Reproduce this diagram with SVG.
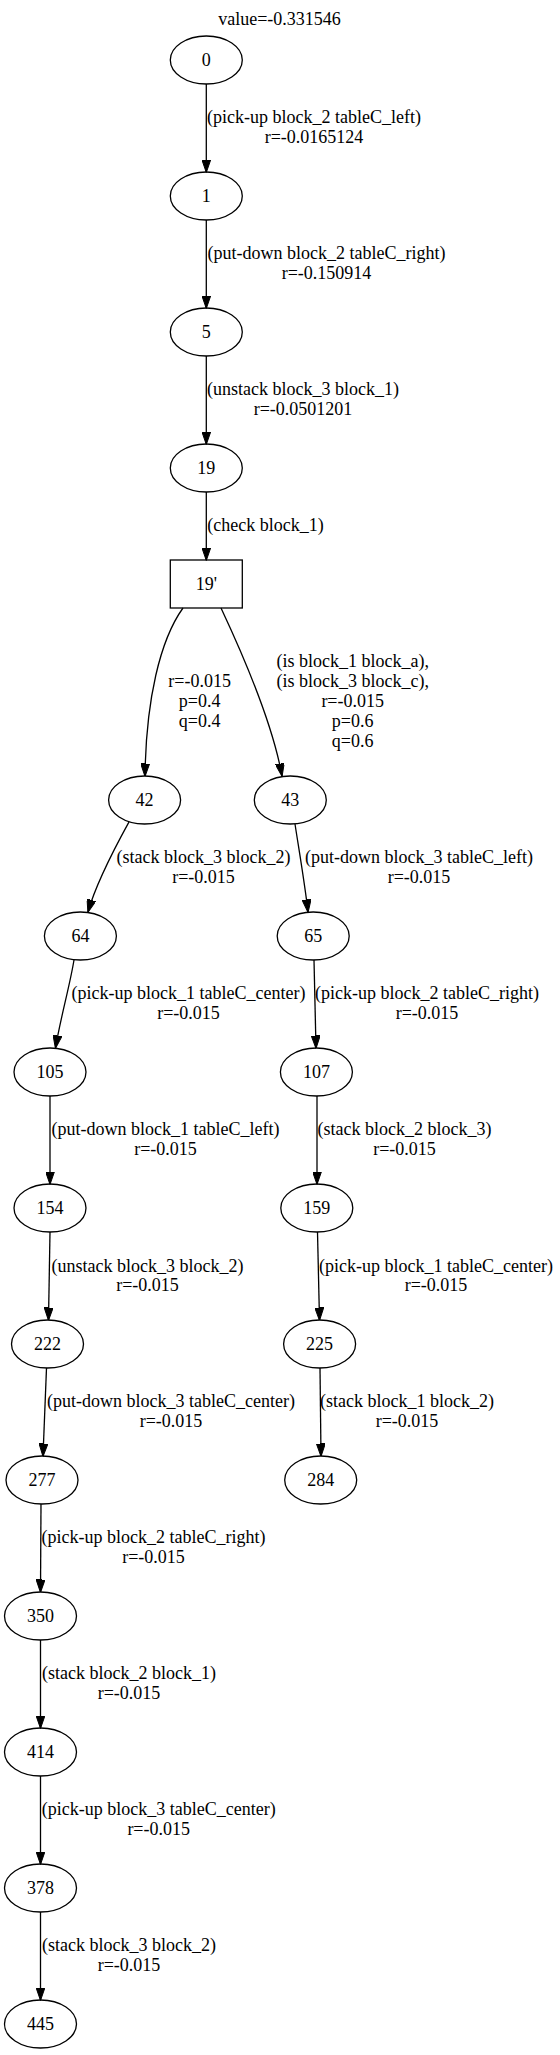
<svg xmlns="http://www.w3.org/2000/svg" width="560" height="2055" viewBox="0 0 560 2055">
<style>
text{font-family:"Liberation Serif","Times New Roman",serif;font-size:18px;fill:#000;text-anchor:middle}
.n ellipse,.n rect{fill:none;stroke:#000;stroke-width:1.3}
#edges path{fill:none;stroke:#000;stroke-width:1.3;marker-end:url(#arr)}
</style>
<defs>
<marker id="arr" viewBox="0 0 13 9" refX="12.5" refY="4.5" markerWidth="13" markerHeight="9" markerUnits="userSpaceOnUse" orient="auto">
<path d="M0,0 L13,4.5 L0,9 z" fill="#000" stroke="#000" stroke-width="1"/>
</marker>
</defs>
<rect width="560" height="2055" fill="#fff"/>
<text x="279.5" y="25">value=-0.331546</text>
<g id="edges">
<path d="M206.3,84 L206.3,172"/>
<path d="M206.3,220 L206.3,308"/>
<path d="M206.3,356 L206.3,444"/>
<path d="M206.3,492 L206.3,560"/>
<path d="M183,608 C160,640 146,700 145,776"/>
<path d="M221,608 C236,640 272,720 282,776"/>
<path d="M129,822 C118,842 97,880 88,912"/>
<path d="M295,824 C299,850 305,885 308,912"/>
<path d="M74,960 C70,985 60,1020 55.5,1048"/>
<path d="M314,960 L316,1048"/>
<path d="M50,1096 L50,1184"/>
<path d="M317,1096 L317,1184"/>
<path d="M50,1232 L48.5,1320"/>
<path d="M317.5,1232 L319.5,1320"/>
<path d="M46.5,1368 L43,1456"/>
<path d="M320,1368 L321,1456"/>
<path d="M41,1504 L40.5,1592"/>
<path d="M40.5,1640 L40.5,1728"/>
<path d="M40.5,1776 L40.5,1864"/>
<path d="M40.5,1912 L40.5,2000"/>
<text x="314" y="123">(pick-up block_2 tableC_left)<tspan x="314" dy="19.5">r=-0.0165124</tspan></text>
<text x="326.5" y="259">(put-down block_2 tableC_right)<tspan x="326.5" dy="19.5">r=-0.150914</tspan></text>
<text x="303" y="395">(unstack block_3 block_1)<tspan x="303" dy="19.5">r=-0.0501201</tspan></text>
<text x="265.5" y="531">(check block_1)</text>
<text x="199.6" y="687.3">r=-0.015<tspan x="199.6" dy="20">p=0.4</tspan><tspan x="199.6" dy="20">q=0.4</tspan></text>
<text x="352.7" y="667.3">(is block_1 block_a),<tspan x="352.7" dy="20">(is block_3 block_c),</tspan><tspan x="352.7" dy="20">r=-0.015</tspan><tspan x="352.7" dy="20">p=0.6</tspan><tspan x="352.7" dy="20">q=0.6</tspan></text>
<text x="203.5" y="863">(stack block_3 block_2)<tspan x="203.5" dy="19.5">r=-0.015</tspan></text>
<text x="419" y="863">(put-down block_3 tableC_left)<tspan x="419" dy="19.5">r=-0.015</tspan></text>
<text x="188.5" y="999">(pick-up block_1 tableC_center)<tspan x="188.5" dy="19.5">r=-0.015</tspan></text>
<text x="427" y="999">(pick-up block_2 tableC_right)<tspan x="427" dy="19.5">r=-0.015</tspan></text>
<text x="165.5" y="1135">(put-down block_1 tableC_left)<tspan x="165.5" dy="19.5">r=-0.015</tspan></text>
<text x="404.5" y="1135">(stack block_2 block_3)<tspan x="404.5" dy="19.5">r=-0.015</tspan></text>
<text x="147.5" y="1271.5">(unstack block_3 block_2)<tspan x="147.5" dy="19.5">r=-0.015</tspan></text>
<text x="436" y="1271.5">(pick-up block_1 tableC_center)<tspan x="436" dy="19.5">r=-0.015</tspan></text>
<text x="171" y="1407">(put-down block_3 tableC_center)<tspan x="171" dy="19.5">r=-0.015</tspan></text>
<text x="407" y="1407">(stack block_1 block_2)<tspan x="407" dy="19.5">r=-0.015</tspan></text>
<text x="153.5" y="1543">(pick-up block_2 tableC_right)<tspan x="153.5" dy="19.5">r=-0.015</tspan></text>
<text x="129" y="1679">(stack block_2 block_1)<tspan x="129" dy="19.5">r=-0.015</tspan></text>
<text x="158.7" y="1815">(pick-up block_3 tableC_center)<tspan x="158.7" dy="19.5">r=-0.015</tspan></text>
<text x="129" y="1951">(stack block_3 block_2)<tspan x="129" dy="19.5">r=-0.015</tspan></text>
</g>
<g id="n0" class="n"><ellipse cx="206.3" cy="60" rx="36" ry="24"/><text x="206.3" y="66">0</text></g>
<g id="n1" class="n"><ellipse cx="206.3" cy="196" rx="36" ry="24"/><text x="206.3" y="202">1</text></g>
<g id="n5" class="n"><ellipse cx="206.3" cy="332" rx="36" ry="24"/><text x="206.3" y="338">5</text></g>
<g id="n19" class="n"><ellipse cx="206.3" cy="468" rx="36" ry="24"/><text x="206.3" y="474">19</text></g>
<g id="n19p" class="n"><rect x="170.3" y="560" width="72" height="48"/><text x="206.3" y="590">19'</text></g>
<g id="n42" class="n"><ellipse cx="144.6" cy="800" rx="36" ry="24"/><text x="144.6" y="806">42</text></g>
<g id="n43" class="n"><ellipse cx="290.3" cy="800" rx="36" ry="24"/><text x="290.3" y="806">43</text></g>
<g id="n64" class="n"><ellipse cx="80.4" cy="936" rx="36" ry="24"/><text x="80.4" y="942">64</text></g>
<g id="n65" class="n"><ellipse cx="313.2" cy="936" rx="36" ry="24"/><text x="313.2" y="942">65</text></g>
<g id="n105" class="n"><ellipse cx="50" cy="1072" rx="36" ry="24"/><text x="50" y="1078">105</text></g>
<g id="n107" class="n"><ellipse cx="316.4" cy="1072" rx="36" ry="24"/><text x="316.4" y="1078">107</text></g>
<g id="n154" class="n"><ellipse cx="50" cy="1208" rx="36" ry="24"/><text x="50" y="1214">154</text></g>
<g id="n159" class="n"><ellipse cx="316.8" cy="1208" rx="36" ry="24"/><text x="316.8" y="1214">159</text></g>
<g id="n222" class="n"><ellipse cx="47.5" cy="1344" rx="36" ry="24"/><text x="47.5" y="1350">222</text></g>
<g id="n225" class="n"><ellipse cx="319.6" cy="1344" rx="36" ry="24"/><text x="319.6" y="1350">225</text></g>
<g id="n277" class="n"><ellipse cx="42" cy="1480" rx="36" ry="24"/><text x="42" y="1486">277</text></g>
<g id="n284" class="n"><ellipse cx="320.7" cy="1480" rx="36" ry="24"/><text x="320.7" y="1486">284</text></g>
<g id="n350" class="n"><ellipse cx="40.5" cy="1616" rx="36" ry="24"/><text x="40.5" y="1622">350</text></g>
<g id="n414" class="n"><ellipse cx="40.5" cy="1752" rx="36" ry="24"/><text x="40.5" y="1758">414</text></g>
<g id="n378" class="n"><ellipse cx="40.5" cy="1888" rx="36" ry="24"/><text x="40.5" y="1894">378</text></g>
<g id="n445" class="n"><ellipse cx="40.5" cy="2024" rx="36" ry="24"/><text x="40.5" y="2030">445</text></g>
</svg>
